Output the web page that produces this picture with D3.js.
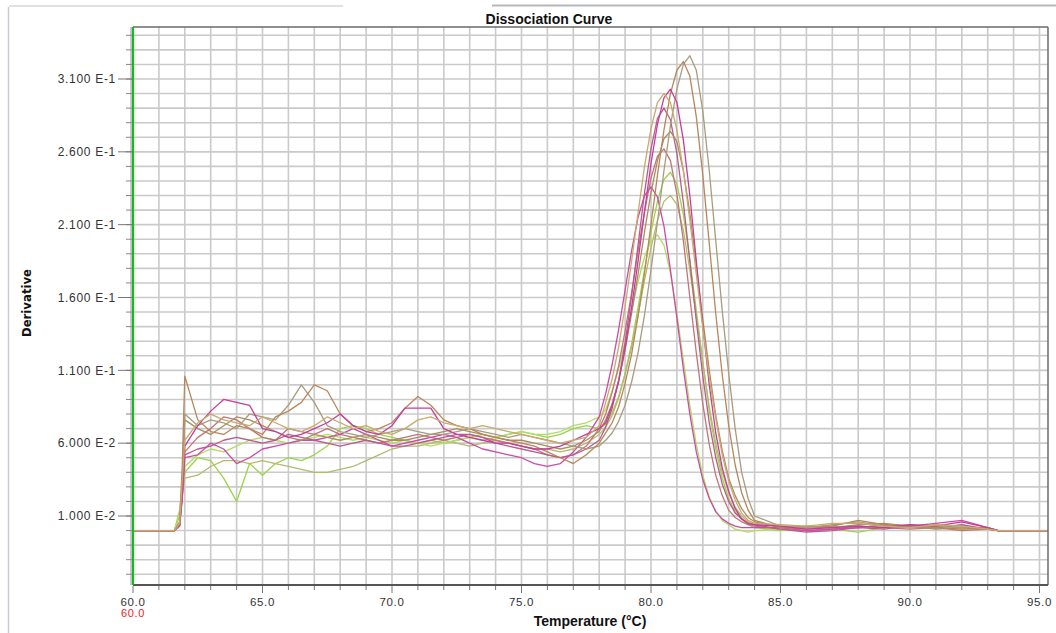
<!DOCTYPE html>
<html>
<head>
<meta charset="utf-8">
<script src="https://cdn.jsdelivr.net/npm/d3@7"></script>
<style>
  html, body { margin: 0; padding: 0; background: #fff; }
  svg text { font-family: "Liberation Sans", Arial, sans-serif; }
</style>
</head>
<body>
<svg id="chart" width="1056" height="633"></svg>
<script>
// temperatures (deg C) shared by every well
const temps = [60.0, 61.6, 61.8, 61.9,
  62.0, 62.5, 63.0, 63.5, 64.0, 64.5, 65.0, 65.5, 66.0, 66.5, 67.0, 67.5, 68.0, 68.5, 69.0, 69.5,
  70.0, 70.5, 71.0, 71.5, 72.0, 72.5, 73.0, 73.5, 74.0, 74.5, 75.0, 75.5, 76.0, 76.5, 77.0, 77.5, 78.0,
  78.25, 78.5, 78.75, 79.0, 79.25, 79.5, 79.75, 80.0, 80.25, 80.5, 80.75, 81.0, 81.25, 81.5, 81.75,
  82.0, 82.25, 82.5, 82.75, 83.0, 83.25, 83.5, 83.75, 84.0,
  85.0, 86.0, 87.0, 88.0, 89.0, 90.0, 91.0, 92.0, 93.0, 93.4, 95.3];

// derivative values, in units of 1e-3
const wellGreyBrown = [0, 0, 4, 30,
  80, 72, 76, 74, 70, 80, 78, 76, 86, 100, 88, 72, 68, 66, 64, 66, 68, 70, 68, 66, 66, 68, 70, 68, 66, 64, 66, 64, 62, 60, 58, 56, 58,
  62, 67, 75, 86, 102, 122, 148, 179, 212, 247, 278, 303, 320, 326, 316, 288, 247, 199, 151, 108, 70, 40, 22, 10,
  3, 2, 4, 6, 3, 2, 3, 2, 1, 0, 0];
const wellBrown = [0, 0, 6, 44,
  106, 76, 68, 66, 72, 70, 66, 78, 82, 88, 100, 96, 80, 72, 68, 70, 74, 84, 92, 86, 76, 72, 70, 66, 64, 62, 60, 58, 54, 50, 46, 52, 60,
  67, 74, 85, 101, 121, 147, 177, 210, 244, 275, 300, 316, 322, 312, 284, 244, 197, 149, 107, 72, 45, 26, 14, 7,
  2, 1, 3, 7, 4, 2, 2, 1, 2, 0, 0];
const wellMagenta = [0, 0, 4, 26,
  58, 72, 82, 90, 88, 86, 70, 68, 64, 66, 70, 74, 80, 72, 68, 66, 72, 84, 84, 84, 70, 66, 64, 62, 60, 60, 58, 56, 56, 58, 62, 66, 70,
  74, 86, 102, 125, 153, 185, 219, 252, 279, 297, 303, 294, 268, 230, 185, 141, 100, 67, 43, 27, 15, 8, 5, 4,
  3, 1, 2, 3, 2, 4, 3, 6, 2, 0, 0];
const wellOlive = [0, 0, 3, 28,
  76, 70, 66, 72, 78, 76, 72, 68, 64, 62, 66, 64, 62, 64, 66, 64, 62, 62, 64, 66, 68, 70, 68, 66, 64, 62, 62, 60, 58, 56, 58, 62, 68,
  76, 87, 103, 124, 149, 176, 205, 232, 254, 269, 274, 267, 247, 218, 182, 145, 110, 79, 55, 36, 24, 15, 9, 6,
  2, 3, 2, 4, 5, 3, 1, 2, 2, 0, 0];
const wellPinkBrown = [0, 0, 4, 24,
  54, 64, 70, 78, 76, 70, 64, 62, 70, 68, 66, 70, 66, 64, 62, 60, 62, 64, 66, 64, 62, 64, 66, 64, 62, 60, 58, 56, 52, 50, 52, 58, 70,
  80, 95, 113, 137, 163, 192, 219, 242, 257, 262, 254, 231, 199, 160, 122, 87, 59, 38, 24, 14, 9, 6, 4, 3,
  1, 0, 1, 3, 2, 1, 2, 0, 1, 0, 0];
const wellGreen = [0, 0, 14, 30,
  40, 50, 48, 36, 20, 46, 38, 46, 50, 48, 52, 58, 70, 72, 70, 66, 64, 62, 60, 62, 60, 62, 64, 66, 64, 66, 68, 66, 64, 66, 70, 72, 70,
  73, 81, 92, 108, 128, 153, 179, 205, 226, 241, 246, 238, 217, 186, 151, 116, 82, 56, 36, 22, 13, 8, 4, 2,
  0, 3, 1, -1, 2, 3, 4, 2, 2, 0, 0];
const wellOliveGreen = [0, 0, 10, 24,
  36, 38, 44, 48, 48, 46, 48, 46, 44, 42, 40, 40, 42, 44, 48, 52, 56, 58, 58, 60, 62, 60, 58, 60, 62, 60, 58, 56, 56, 54, 56, 60, 66,
  71, 79, 91, 107, 126, 148, 172, 194, 213, 226, 230, 224, 206, 179, 147, 115, 85, 60, 40, 26, 16, 10, 6, 4,
  3, 2, 3, 2, 3, 4, 2, 3, 1, 0, 0];
const wellMagenta2 = [0, 0, 3, 22,
  50, 52, 60, 56, 46, 50, 56, 58, 60, 62, 62, 64, 66, 70, 66, 62, 58, 60, 62, 64, 66, 64, 60, 56, 54, 52, 50, 46, 44, 46, 54, 64, 78,
  94, 114, 138, 165, 192, 215, 230, 236, 229, 209, 179, 146, 111, 80, 54, 35, 22, 13, 8, 5, 3, 2, 2, 2,
  2, 0, 1, 2, 4, 3, 5, 7, 2, 0, 0];
const wellLime = [0, 0, 12, 28,
  44, 52, 56, 54, 58, 62, 64, 62, 60, 62, 64, 66, 64, 62, 64, 62, 60, 62, 60, 58, 60, 62, 64, 62, 64, 66, 68, 66, 66, 68, 72, 74, 78,
  83, 96, 111, 130, 151, 171, 188, 199, 203, 196, 177, 149, 117, 86, 59, 38, 23, 13, 7, 4, 1, 0, -1, 0,
  1, 2, 1, 2, 3, 2, 3, 1, 1, 0, 0];
const wellMauve = [0, 0, 4, 22,
  52, 56, 58, 62, 64, 62, 60, 62, 66, 64, 62, 60, 58, 60, 62, 60, 58, 58, 60, 62, 64, 66, 66, 64, 60, 58, 56, 54, 52, 50, 52, 56, 62,
  71, 84, 103, 129, 161, 196, 232, 262, 283, 290, 282, 259, 225, 185, 144, 106, 74, 50, 32, 20, 12, 8, 5, 4,
  1, -1, 0, 2, 1, 3, 2, 4, 1, 0, 0];
const wellTan = [0, 0, 5, 34,
  62, 74, 80, 76, 74, 72, 78, 74, 70, 68, 72, 78, 74, 70, 72, 68, 66, 70, 76, 78, 74, 72, 70, 72, 70, 68, 66, 64, 62, 60, 62, 64, 72,
  88, 104, 126, 154, 185, 218, 250, 276, 294, 300, 294, 275, 247, 213, 176, 139, 105, 77, 52, 34, 21, 12, 7, 5,
  4, 3, 5, 5, 3, 2, 4, 3, 1, 0, 0];

const wells = [wellGreen, wellOliveGreen, wellLime, wellPinkBrown, wellMauve, wellMagenta2,
  wellOlive, wellGreyBrown, wellBrown, wellMagenta, wellTan];
const wellColors = ['#9ad44c', '#b4ba6c', '#b0de60', '#c27478', '#b85c8a', '#cc4aa8',
  '#a88e5e', '#a89c7e', '#b8865a', '#c63c9e', '#c8aa6c'];

const xTickValues = [60, 65, 70, 75, 80, 85, 90, 95];
const yTickValues = [0.01, 0.06, 0.11, 0.16, 0.21, 0.26, 0.31];

const svg = d3.select('#chart');
svg.append('rect').attr('width', 1056).attr('height', 633).attr('fill', '#fff');

// plot frame
const plot = {left: 133, right: 1048, top: 27, bottom: 585};

const x = d3.scaleLinear().domain([60, 95]).range([133, 1039.5]);
const y = d3.scaleLinear().domain([0.01, 0.31]).range([516, 79]);

// outer panel edges
svg.append('line').attr('x1', 8.5).attr('x2', 8.5).attr('y1', 7).attr('y2', 633)
  .attr('stroke', '#c8ccd0').attr('stroke-width', 1.5);
svg.append('line').attr('x1', 9).attr('x2', 343).attr('y1', 6).attr('y2', 6)
  .attr('stroke', '#d4d8dc').attr('stroke-width', 1.5);
svg.append('line').attr('x1', 492).attr('x2', 1056).attr('y1', 5.5).attr('y2', 5.5)
  .attr('stroke', '#b4b8bc').attr('stroke-width', 2);

// grid
const xGrid = d3.range(61, 96);
const yGrid = d3.range(-3, 35).map((d) => d / 100);

svg.append('g')
  .selectAll('line')
  .data(xGrid)
  .enter().append('line')
  .attr('x1', (d) => x(d)).attr('x2', (d) => x(d))
  .attr('y1', plot.top).attr('y2', plot.bottom)
  .attr('stroke', '#cacaca').attr('stroke-width', 1.6);

svg.append('g')
  .selectAll('line')
  .data(yGrid)
  .enter().append('line')
  .attr('x1', plot.left).attr('x2', plot.right)
  .attr('y1', (d) => y(d)).attr('y2', (d) => y(d))
  .attr('stroke', '#cacaca').attr('stroke-width', 1.6);

// curves
const line = d3.line()
  .x((d, i) => x(temps[i]))
  .y((d) => y(d / 1000));

svg.append('g')
  .selectAll('path')
  .data(wells)
  .enter().append('path')
  .attr('d', line)
  .attr('fill', 'none')
  .attr('stroke', (d, i) => wellColors[i])
  .attr('stroke-width', 1.3)
  .attr('stroke-linejoin', 'round');

// borders
svg.append('line').attr('x1', plot.left).attr('x2', plot.right).attr('y1', plot.top).attr('y2', plot.top)
  .attr('stroke', '#6a6a6a').attr('stroke-width', 1.5);
svg.append('line').attr('x1', plot.right).attr('x2', plot.right).attr('y1', plot.top).attr('y2', plot.bottom)
  .attr('stroke', '#6a6a6a').attr('stroke-width', 1.5);
svg.append('line').attr('x1', plot.left).attr('x2', plot.right).attr('y1', plot.bottom).attr('y2', plot.bottom)
  .attr('stroke', '#555').attr('stroke-width', 2);
svg.append('line').attr('x1', plot.left - 2).attr('x2', plot.left - 2).attr('y1', plot.top).attr('y2', plot.bottom)
  .attr('stroke', '#a08cb8').attr('stroke-width', 1);
svg.append('line').attr('x1', plot.left).attr('x2', plot.left).attr('y1', plot.top).attr('y2', plot.bottom)
  .attr('stroke', '#10c010').attr('stroke-width', 2.2);

// y axis ticks and labels
const fmtExp = (v) => {
  const e = Math.floor(Math.log10(v) + 1e-9);
  return (v / Math.pow(10, e)).toFixed(3) + ' E' + e;
};

svg.append('g')
  .selectAll('line')
  .data(yGrid)
  .enter().append('line')
  .attr('x1', plot.left - 7).attr('x2', plot.left - 1)
  .attr('y1', (d) => y(d)).attr('y2', (d) => y(d))
  .attr('stroke', '#888').attr('stroke-width', 1);

const yAxis = svg.append('g');
yAxis.selectAll('line')
  .data(yTickValues)
  .enter().append('line')
  .attr('x1', 118).attr('x2', plot.left - 1)
  .attr('y1', (d) => y(d)).attr('y2', (d) => y(d))
  .attr('stroke', '#777').attr('stroke-width', 1);
yAxis.selectAll('text')
  .data(yTickValues)
  .enter().append('text')
  .attr('x', 116)
  .attr('y', (d) => y(d))
  .attr('dy', '0.36em')
  .attr('text-anchor', 'end')
  .style('font-size', '12px')
  .style('letter-spacing', '0.7px')
  .attr('fill', '#333')
  .text(fmtExp);

// x axis ticks and labels
svg.append('g')
  .selectAll('line')
  .data(d3.range(60, 96))
  .enter().append('line')
  .attr('x1', (d) => x(d)).attr('x2', (d) => x(d))
  .attr('y1', plot.bottom + 1).attr('y2', (d) => plot.bottom + (d % 5 === 0 ? 8 : 5))
  .attr('stroke', '#777').attr('stroke-width', 1);

svg.append('g')
  .selectAll('text')
  .data(xTickValues)
  .enter().append('text')
  .attr('x', (d) => x(d))
  .attr('y', 606)
  .attr('text-anchor', 'middle')
  .style('font-size', '11.5px')
  .style('letter-spacing', '0.7px')
  .attr('fill', '#333')
  .text((d) => d.toFixed(1));

svg.append('text')
  .attr('x', x(xTickValues[0]))
  .attr('y', 617)
  .attr('text-anchor', 'middle')
  .style('font-size', '11px')
  .style('letter-spacing', '0.7px')
  .attr('fill', '#f02020')
  .text(xTickValues[0].toFixed(1));

// titles
svg.append('text')
  .attr('x', 549).attr('y', 24)
  .attr('text-anchor', 'middle')
  .style('font-size', '14px').style('font-weight', 'bold')
  .attr('fill', '#111')
  .text('Dissociation Curve');

svg.append('text')
  .attr('x', 590).attr('y', 626)
  .attr('text-anchor', 'middle')
  .style('font-size', '14px').style('font-weight', 'bold')
  .attr('fill', '#111')
  .text('Temperature (\u00B0C)');

svg.append('text')
  .attr('transform', 'translate(31,303) rotate(-90)')
  .attr('text-anchor', 'middle')
  .style('font-family', '"Liberation Sans Narrow", "DejaVu Sans Condensed", sans-serif')
  .style('font-size', '13px').style('font-weight', 'bold')
  .attr('fill', '#111')
  .text('Derivative');
</script>
</body>
</html>
